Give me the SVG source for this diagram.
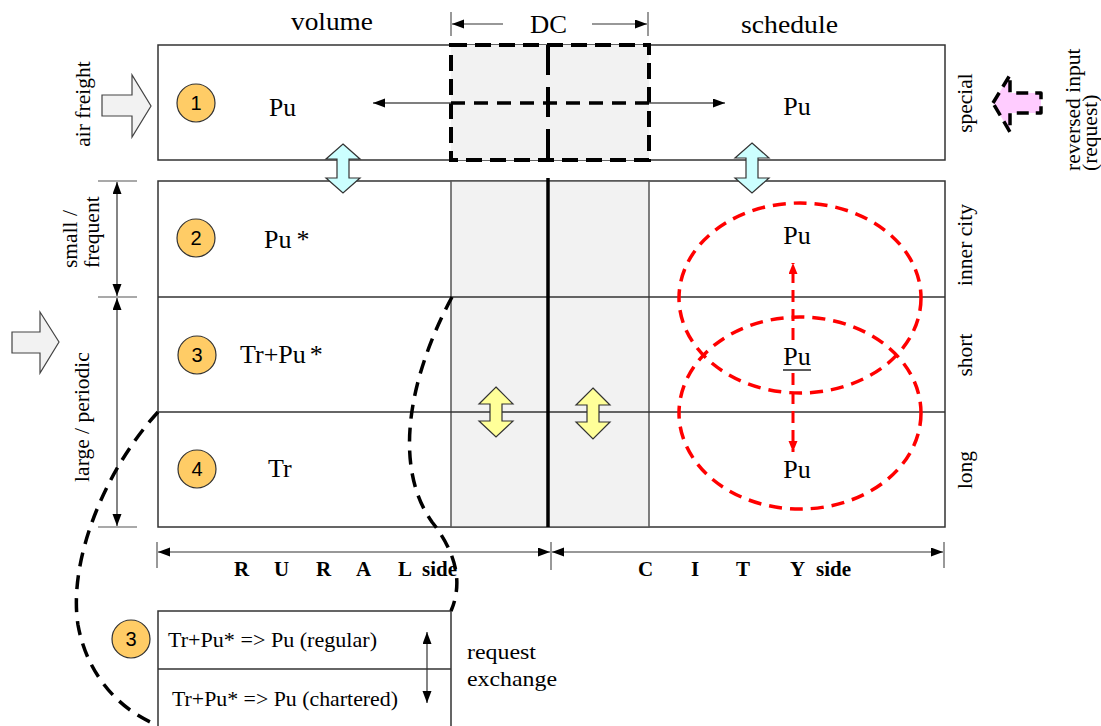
<svg xmlns="http://www.w3.org/2000/svg" width="1101" height="726" viewBox="0 0 1101 726">
<style>
.box{fill:#fff;stroke:#333;stroke-width:1.5}
.dcfill{fill:#f2f2f2;stroke:#555;stroke-width:1.5}
.sep{stroke:#333;stroke-width:1.5;fill:none}
.thin{stroke:#333;stroke-width:1.2;fill:none}
.tick{stroke:#555;stroke-width:1.2;fill:none}
.thickdash{stroke:#000;stroke-width:4;stroke-dasharray:16 8;fill:none}
.curve{stroke:#000;stroke-width:3.5;stroke-dasharray:14 9;fill:none}
.red{stroke:#ff0000;stroke-width:3.5;stroke-dasharray:13 8;fill:none}
.num{fill:#ffcc66;stroke:#333;stroke-width:1.2}
.numt{font-family:"Liberation Sans",Arial,sans-serif;font-size:20px;fill:#000;text-anchor:middle}
.lbl{font-family:"Liberation Serif","Times New Roman",serif;font-size:26px;fill:#000}
.rot{font-family:"Liberation Serif","Times New Roman",serif;font-size:21.5px;fill:#000}
.bold{font-family:"Liberation Serif","Times New Roman",serif;font-size:21px;font-weight:bold;fill:#000}
.small{font-family:"Liberation Serif","Times New Roman",serif;font-size:21px;fill:#000}
.grey{fill:#f2f2f2;stroke:#444;stroke-width:1.2}
.cyan{fill:#ccffff;stroke:#333;stroke-width:1.2}
.yellow{fill:#ffff99;stroke:#333;stroke-width:1.2}
</style>
<defs>
<marker id="ah" markerWidth="13" markerHeight="10" refX="12" refY="4.5" orient="auto-start-reverse" markerUnits="userSpaceOnUse"><path d="M0,0 L12,4.5 L0,9 z" fill="#000"/></marker>
<marker id="rah" markerWidth="12" markerHeight="10" refX="11" refY="4.5" orient="auto-start-reverse" markerUnits="userSpaceOnUse"><path d="M0,0 L11,4.5 L0,9 z" fill="#ff0000"/></marker>
</defs>

<g id="headers">
<text class="lbl" x="291" y="30" textLength="82" lengthAdjust="spacingAndGlyphs">volume</text>
<text class="lbl" x="530" y="33" textLength="37" lengthAdjust="spacingAndGlyphs">DC</text>
<text class="lbl" x="741" y="33" textLength="97" lengthAdjust="spacingAndGlyphs">schedule</text>
</g>

<g id="row1">
<rect class="box" x="158" y="45" width="787" height="115"/>
<rect x="451" y="45" width="198" height="115" fill="#f2f2f2"/>
<rect class="thickdash" x="451" y="45" width="198" height="115"/>
<line x1="548" y1="45" x2="548" y2="160" stroke="#000" stroke-width="4" stroke-dasharray="30 12"/>
<line x1="451" y1="103" x2="649" y2="103" stroke="#000" stroke-width="3.5" stroke-dasharray="14 9"/>
<text class="lbl" x="269" y="116" textLength="27" lengthAdjust="spacingAndGlyphs">Pu</text>
<text class="lbl" x="797" y="115" text-anchor="middle">Pu</text>
</g>

<g id="main">
<rect class="box" x="158" y="181" width="787" height="346"/>
<rect class="dcfill" x="451" y="181" width="198" height="346"/>
<line class="sep" x1="158" y1="297" x2="945" y2="297"/>
<line class="sep" x1="158" y1="412" x2="945" y2="412"/>
<line x1="548" y1="178" x2="548" y2="527" stroke="#000" stroke-width="3.5"/>
</g>

<g id="row2"><text class="lbl" x="264" y="248">Pu<tspan dx="5">*</tspan></text>
<text class="lbl" x="797" y="244" text-anchor="middle">Pu</text></g>
<g id="row3"><text class="lbl" x="240" y="363">Tr+Pu<tspan dx="4">*</tspan></text>
<text class="lbl" x="797" y="365" text-anchor="middle">Pu</text>
<line x1="783" y1="370" x2="811" y2="370" stroke="#000" stroke-width="1.3"/></g>
<g id="row4"><text class="lbl" x="268" y="477">Tr</text>
<text class="lbl" x="797" y="478" text-anchor="middle">Pu</text></g>

<g id="n1"><circle class="num" cx="196" cy="103" r="19"/><text class="numt" x="196" y="110">1</text></g>
<g id="n2"><circle class="num" cx="196" cy="238" r="19"/><text class="numt" x="196" y="245">2</text></g>
<g id="n3"><circle class="num" cx="197" cy="355" r="19"/><text class="numt" x="197" y="362">3</text></g>
<g id="n4"><circle class="num" cx="197" cy="469" r="19"/><text class="numt" x="197" y="476">4</text></g>
<g id="n3b"><circle class="num" cx="131" cy="639" r="19"/><text class="numt" x="131" y="646">3</text></g>

<g id="leftlabels">
<text class="rot" transform="translate(90,104) rotate(-90)" text-anchor="middle">air freight</text>
<text class="rot" transform="translate(77,268) rotate(-90)">small /</text>
<text class="rot" transform="translate(99,268) rotate(-90)">frequent</text>
<text class="rot" transform="translate(89,417) rotate(-90)" text-anchor="middle">large / periodic</text>
</g>
<g id="rightlabels">
<text class="rot" transform="translate(972,103) rotate(-90)" text-anchor="middle">special</text>
<text class="rot" transform="translate(972,245) rotate(-90)" text-anchor="middle">inner city</text>
<text class="rot" transform="translate(972,355) rotate(-90)" text-anchor="middle">short</text>
<text class="rot" transform="translate(972,470) rotate(-90)" text-anchor="middle">long</text>
<text class="rot" transform="translate(1080,171) rotate(-90)">reversed input</text>
<text class="rot" transform="translate(1097,171) rotate(-90)">(request)</text>
</g>

<g id="arrow-air"><polygon class="grey" points="102,95 132,95 132,75 151,106 132,137 132,116 102,116"/></g>
<g id="arrow-large"><polygon class="grey" points="12,332 40,332 40,312 59,342 40,373 40,353 12,353"/></g>
<g id="arrow-reversed"><polygon points="993,103 1010,75 1010,93 1041,93 1041,113 1010,113 1010,132" fill="#ffccff" stroke="#000" stroke-width="3.5" stroke-dasharray="12 7" stroke-linejoin="round"/></g>
<g id="cyan-left"><polygon class="cyan" points="343,144 360,159 349,159 349,178 360,178 343,193 326,178 337,178 337,159 326,159"/></g>
<g id="cyan-right"><polygon class="cyan" points="752,143 769,158 758,158 758,178 769,178 752,193 735,178 746,178 746,158 735,158"/></g>
<g id="yellow-left"><polygon class="yellow" points="496,387 513,404 502,404 502,421 513,421 496,437 479,421 490,421 490,404 479,404"/></g>
<g id="yellow-right"><polygon class="yellow" points="593,388 610,405 599,405 599,422 610,422 593,439 576,422 587,422 587,405 576,405"/></g>

<g id="zones">
<ellipse class="red" cx="800" cy="298" rx="121" ry="95"/>
<ellipse class="red" cx="800" cy="413" rx="121" ry="96"/>
</g>

<g id="request-box">
<polyline class="box" points="158,726 158,611 451,611 451,726" fill="#fff"/>
<line class="sep" x1="158" y1="669" x2="451" y2="669"/>
<text class="small" x="168" y="647" textLength="209" lengthAdjust="spacingAndGlyphs">Tr+Pu* =&gt; Pu (regular)</text>
<text class="small" x="172" y="706" textLength="226" lengthAdjust="spacingAndGlyphs">Tr+Pu* =&gt; Pu (chartered)</text>
</g>
<g id="request-label">
<text class="small" x="467" y="659" textLength="69" lengthAdjust="spacingAndGlyphs">request</text>
<text class="small" x="467" y="686" textLength="90" lengthAdjust="spacingAndGlyphs">exchange</text>
</g>

<g id="sides">
<text class="bold" y="576"><tspan x="234">R</tspan><tspan x="274">U</tspan><tspan x="316">R</tspan><tspan x="356">A</tspan><tspan x="398">L</tspan><tspan x="422">side</tspan></text>
<text class="bold" y="576"><tspan x="638">C</tspan><tspan x="691">I</tspan><tspan x="736">T</tspan><tspan x="790">Y</tspan><tspan x="816">side</tspan></text>
</g>

<g id="connectors">
<line class="tick" x1="451" y1="12" x2="451" y2="36"/>
<line class="tick" x1="648" y1="12" x2="648" y2="36"/>
<line class="thin" x1="503" y1="24" x2="452" y2="24" marker-end="url(#ah)"/>
<line class="thin" x1="592" y1="24" x2="647" y2="24" marker-end="url(#ah)"/>
<line x1="451" y1="103" x2="373" y2="103" stroke="#555" stroke-width="1.3" marker-end="url(#ah)"/>
<line x1="649" y1="103" x2="725" y2="103" stroke="#555" stroke-width="1.3" marker-end="url(#ah)"/>
<line class="tick" x1="98" y1="181" x2="137" y2="181"/>
<line class="tick" x1="98" y1="297" x2="137" y2="297"/>
<line class="tick" x1="98" y1="527" x2="137" y2="527"/>
<line class="thin" x1="117" y1="182" x2="117" y2="296" marker-start="url(#ah)" marker-end="url(#ah)"/>
<line class="thin" x1="117" y1="298" x2="117" y2="526" marker-start="url(#ah)" marker-end="url(#ah)"/>
<line class="tick" x1="157" y1="542" x2="157" y2="568"/>
<line class="tick" x1="551" y1="542" x2="551" y2="570"/>
<line class="tick" x1="944" y1="542" x2="944" y2="568"/>
<line class="thin" x1="158" y1="552" x2="550" y2="552" marker-start="url(#ah)" marker-end="url(#ah)"/>
<line class="thin" x1="552" y1="552" x2="943" y2="552" marker-start="url(#ah)" marker-end="url(#ah)"/>
<line class="thin" x1="427" y1="632" x2="427" y2="703" marker-start="url(#ah)" marker-end="url(#ah)"/>
<line x1="793" y1="340" x2="793" y2="263" stroke="#ff0000" stroke-width="3" stroke-dasharray="12 7" marker-end="url(#rah)"/>
<line x1="793" y1="373" x2="793" y2="452" stroke="#ff0000" stroke-width="3" stroke-dasharray="12 7" marker-end="url(#rah)"/>
<path class="curve" d="M452,297 C405,385 395,470 432,522 C462,560 460,590 451,611"/>
<path class="curve" d="M158,412 C105,470 68,560 78,625 C88,680 125,712 155,724"/>
</g>
</svg>
